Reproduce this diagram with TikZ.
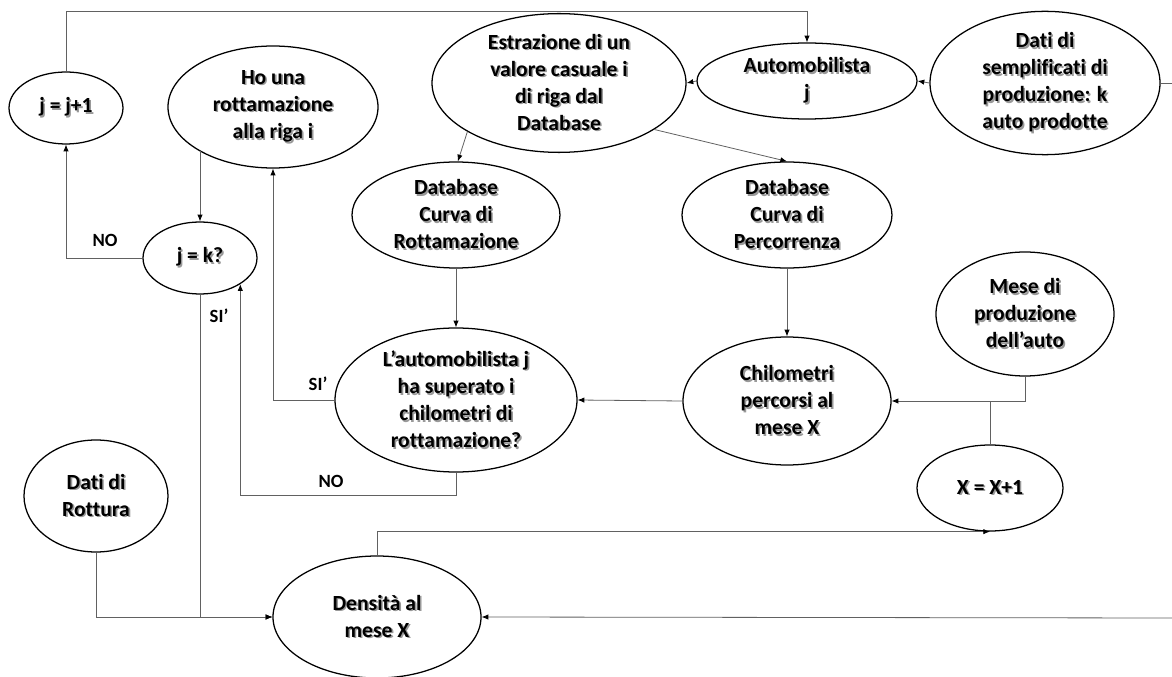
\documentclass[tikz,border=0pt]{standalone}
\usepackage{fontspec}
\setmainfont[Ligatures={NoCommon}]{Carlito}
\usetikzlibrary{shapes.geometric,arrows.meta}
% bold label text with a soft drop shadow
\newcommand\sh[1]{\rlap{\hspace{1.2pt}\raisebox{-1.2pt}{\textcolor{black!40}{#1}}}#1}
\tikzset{
  ell/.style 2 args={ellipse, draw=black, line width=0.95pt, inner sep=0pt,
    minimum width=#1*1.5pt, minimum height=#2*1.5pt,
    align=center, font=\fontsize{16.2}{20.3}\selectfont\bfseries},
  conn/.style={draw=black!62, line width=0.6pt},
  arr/.style={conn, -{Latex[length=5pt,width=4pt,fill=black,color=black]}},
  lab/.style={font=\fontsize{14}{16}\selectfont\bfseries, text=black, inner sep=0pt}
}
\begin{document}
\begin{tikzpicture}[x=0.75pt,y=-0.75pt]
\useasboundingbox (0,0) rectangle (1172,677);

% nodes (centre in px, half-axes)
\node[ell={57}{36}]  (jj)    at (66,108)   {\sh{j = j+1}};
\node[ell={105}{61}] (ho)    at (273,107)  {\sh{Ho una}\\\sh{rottamazione}\\\sh{alla riga i}};
\node[ell={57}{36}]  (jk)    at (200,258)  {\sh{j = k?}};
\node[ell={127}{64}] (estr)  at (559,83)   {\sh{Estrazione di un}\\\sh{valore casuale i}\\\sh{di riga dal}\\\sh{Database}};
\node[ell={110}{38}] (auto)  at (807,81)   {\sh{Automobilista}\\\sh{j}};
\node[ell={115}{65}] (dati)  at (1045,83)  {\sh{Dati di}\\\sh{semplificati di}\\\sh{produzione: k}\\\sh{auto prodotte}};
\node[ell={104}{53}] (dbr)   at (456,215)  {\sh{Database}\\\sh{Curva di}\\\sh{Rottamazione}};
\node[ell={105}{53}] (dbp)   at (787,215)  {\sh{Database}\\\sh{Curva di}\\\sh{Percorrenza}};
\node[ell={89}{62}]  (mese)  at (1025,314) {\sh{Mese di}\\\sh{produzione}\\\sh{dell’auto}};
\node[ell={104}{64}] (chil)  at (787,401)  {\sh{Chilometri}\\\sh{percorsi al}\\\sh{mese X}};
\node[ell={121}{72}] (lauto) at (456,400)  {\sh{L’automobilista j}\\\sh{ha superato i}\\\sh{chilometri di}\\\sh{rottamazione?}};
\node[ell={73}{43}]  (xx)    at (990,488)  {\sh{X = X+1}};
\node[ell={72}{56}]  (rott)  at (96,496)   {\sh{Dati di}\\\sh{Rottura}};
\node[ell={104}{61}] (dens)  at (377,617)  {\sh{Densità al}\\\sh{mese X}};

% helper coordinates for routed connectors
\coordinate (topline) at (0,11);
\coordinate (noline)  at (0,495);
\coordinate (edgeA)   at (1172,83);
\coordinate (edgeB)   at (1172,618);

% connectors
\draw[arr] (jj.north) -- (jj.north |- topline) -| (auto.north);
\draw[arr] (auto.west) -- (estr.east);
\draw[arr] (dati.west) -- (auto.east);
\draw[conn] (dati.east) -- (edgeA);
\draw[arr] (estr.208) -- (dbr.88);
\draw[arr] (estr.-26) -- (dbp.north);
\draw[arr] (dbr.south) -- (lauto.north);
\draw[arr] (dbp.south) -- (chil.north);
\draw[arr] (chil.west) -- (lauto.east);
\draw[arr] (mese.south) |- (chil.east);
\draw[conn] (xx.north) -- (xx.north |- chil.east);
\draw[arr] (lauto.west) -| (ho.south);
\draw[arr] (lauto.south) -- (lauto.south |- noline) -| (jk.-33);
\draw[arr] (jk.north |- ho.211) -- (jk.north);
\draw[arr] (jk.west) -| (jj.south);
\draw[arr] (jk.south) |- (dens.west);
\draw[arr] (rott.south) |- (dens.west);
\draw[arr] (dens.north) |- (xx.south);
\draw[arr] (edgeB) -- (dens.east);

% branch labels
\node[lab] (noA) at (105,240) {NO};
\node[lab] (siA) at (219,316) {SI’};
\node[lab] (siB) at (318,384) {SI’};
\node[lab] (noB) at (331,481) {NO};
\end{tikzpicture}
\end{document}
